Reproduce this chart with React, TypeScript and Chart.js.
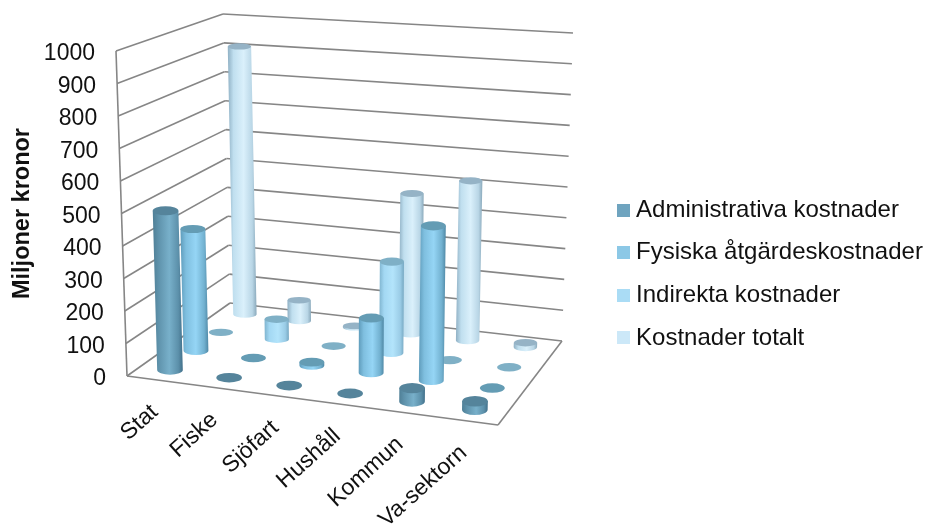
import React, { useEffect, useRef } from "react";
import { Chart, BarController, BarElement, registerables } from "chart.js";

const categories = ["Stat", "Fiske", "Sjöfart", "Hushåll", "Kommun", "Va-sektorn"];
const seriesNames = [
  "Administrativa kostnader",
  "Fysiska åtgärdeskostnader",
  "Indirekta kostnader",
  "Kostnader totalt",
];
const administrativa = [495, 0, 0, 0, 40, 25];
const fysiska = [390, 0, 10, 170, 475, 0];
const indirekta = [0, 65, 0, 292, 0, 0];
const totalt = [910, 70, 5, 462, 520, 15];
const seriesValues = [administrativa, fysiska, indirekta, totalt];

const legendColors = ["#6fa4bf", "#8cc8e6", "#aadcf5", "#cce8f8"];
const capColors = ["#55849b", "#649cb4", "#7fb0c6", "#95b3c6"];
const sideStops = [
  ["#4f7f96", "#5f93ac", "#78b0ca", "#5c90aa", "#42708a"],
  ["#5f9cbb", "#7fbfdf", "#95d5f5", "#72b1d0", "#4f88a5"],
  ["#7fb4cf", "#a3d8f3", "#b3e4fb", "#9acce6", "#76a8c2"],
  ["#8fb0c4", "#c0dfef", "#daf0fb", "#b9d6e6", "#8aa9bb"],
];
const stopOffsets = [0, 0.2, 0.55, 0.85, 1];

const FONT = "'Liberation Sans', Arial, sans-serif";
const GRID = "#868686";

// The eight corners of the plot box on screen: floor and ceiling.
const floorBox = { fl: [127, 376], fr: [498, 425], br: [562, 341], bl: [230, 303] };
const ceilBox = { fl: [116, 51], fr: [506, 80], br: [573, 33], bl: [223, 14] };

const mix = (a: number, b: number, t: number) => a + (b - a) * t;

function quad(box: any, u: number, v: number) {
  const fx = mix(box.fl[0], box.fr[0], u);
  const fy = mix(box.fl[1], box.fr[1], u);
  const bx = mix(box.bl[0], box.br[0], u);
  const by = mix(box.bl[1], box.br[1], u);
  return [mix(fx, bx, v), mix(fy, by, v)];
}

// u runs along the categories, v into the depth, h up the value axis (all 0..1).
// The small quadratic terms stand in for foreshortening towards the far sides.
function project(uIn: number, vIn: number, h: number) {
  const u = uIn - 0.045 * uIn * (1 - uIn);
  const v = vIn + 0.08 * vIn * (1 - vIn);
  const a = quad(floorBox, u, v);
  const b = quad(ceilBox, u, v);
  return [mix(a[0], b[0], h), mix(a[1], b[1], h)];
}

class CylinderElement extends BarElement {
  static id = "cylinder";

  draw(ctx: CanvasRenderingContext2D) {
    const g = (this as any).geo;
    if (!g) return;
    const { bx, by, tx, ty, rx, ry, series, h } = g;
    if (h > 0.0005) {
      const left = Math.min(bx, tx) - rx;
      const right = Math.max(bx, tx) + rx;
      const grad = ctx.createLinearGradient(left, 0, right, 0);
      sideStops[series].forEach((c, i) => grad.addColorStop(stopOffsets[i], c));
      ctx.beginPath();
      ctx.moveTo(tx - rx, ty);
      ctx.lineTo(bx - rx, by);
      ctx.ellipse(bx, by, rx, ry, 0, Math.PI, 0, true);
      ctx.lineTo(tx + rx, ty);
      ctx.closePath();
      ctx.fillStyle = grad;
      ctx.fill();
    }
    ctx.beginPath();
    ctx.ellipse(tx, ty, rx, ry, 0, 0, Math.PI * 2);
    ctx.fillStyle = capColors[series];
    ctx.fill();
  }
}

class CylinderController extends BarController {
  static id = "cylinder";
  static defaults = { dataElementType: "cylinder" };

  updateElements(bars: any[], start: number, count: number, mode: any) {
    const meta = (this as any)._cachedMeta;
    const { iScale, vScale } = meta;
    const series = this.index;
    const v = (series + 0.5) / seriesValues.length;
    const zero = vScale.getPixelForValue(vScale.min);
    const span = zero - vScale.getPixelForValue(vScale.max);
    for (let i = start; i < start + count; i++) {
      const parsed = (this as any).getParsed(i);
      const xPx = iScale.getPixelForValue(parsed[iScale.axis]);
      const u = (xPx - iScale.left) / iScale.width;
      const h = (zero - vScale.getPixelForValue(parsed[vScale.axis])) / span;
      const [bx, by] = project(u, v, 0);
      const [tx, ty] = project(u, v, h);
      (this as any).updateElement(
        bars[i],
        i,
        {
          x: tx,
          y: ty,
          base: by,
          width: 25,
          height: by - ty,
          horizontal: false,
          geo: { bx, by, tx, ty, h, series, rx: mix(13, 11.5, v), ry: mix(4.8, 2.8, v) + u * 0.8 },
          options: (this as any).resolveDataElementOptions(i, mode),
        },
        "none"
      );
    }
  }
}

Chart.register(...registerables, CylinderElement, CylinderController);

function swatch(color: string) {
  const c = document.createElement("canvas");
  c.width = 13;
  c.height = 13;
  const x = c.getContext("2d")!;
  x.fillStyle = color;
  x.fillRect(0, 0, 13, 13);
  return c;
}

// Walls, floor, value labels and category labels of the 3-D box.
const boxFrame = {
  id: "boxFrame",
  afterLayout(chart: any) {
    const lg = chart.legend;
    lg.left = 605;
    lg.right = 925;
    lg.top = 179.5;
    lg.bottom = 526;
  },
  beforeDatasetsDraw(chart: any) {
    const { ctx, scales } = chart;
    const y = scales.y;
    const x = scales.x;
    const zero = y.getPixelForValue(y.min);
    const span = zero - y.getPixelForValue(y.max);
    const seg = (a: number[], b: number[]) => {
      ctx.beginPath();
      ctx.moveTo(a[0], a[1]);
      ctx.lineTo(b[0], b[1]);
      ctx.stroke();
    };
    ctx.save();
    ctx.strokeStyle = GRID;
    ctx.lineWidth = 1.6;
    y.ticks.forEach((t: any) => {
      const h = (zero - y.getPixelForValue(t.value)) / span;
      seg(project(0, 0, h), project(0, 1, h));
      seg(project(0, 1, h), project(1, 1, h));
    });
    seg(project(0, 0, 0), project(0, 0, 1));
    seg(project(0, 0, 0), project(1, 0, 0));
    seg(project(1, 0, 0), project(1, 1, 0));

    ctx.fillStyle = "#111";
    ctx.font = `23px ${FONT}`;
    ctx.textAlign = "right";
    ctx.textBaseline = "middle";
    y.ticks.forEach((t: any) => {
      const h = (zero - y.getPixelForValue(t.value)) / span;
      const p = project(0, 0, h);
      ctx.fillText(String(t.value), p[0] - 21, p[1] + 3);
    });

    ctx.font = `23px ${FONT}`;
    categories.forEach((_, i) => {
      const u = (x.getPixelForValue(i) - x.left) / x.width;
      const p = project(u, 0, 0);
      ctx.save();
      ctx.translate(p[0] - 2, p[1] + 29);
      ctx.rotate((-42 * Math.PI) / 180);
      ctx.fillText(x.getLabelForValue(i), 0, 0);
      ctx.restore();
    });
    ctx.restore();
  },
};

export default function App() {
  const ref = useRef<HTMLCanvasElement>(null);
  useEffect(() => {
    document.body.style.margin = "0";
    document.body.style.overflow = "hidden";
    const chart = new Chart(ref.current!, {
      type: "cylinder" as any,
      data: {
        labels: categories,
        datasets: seriesNames.map((name, s) => ({
          label: name,
          data: seriesValues[s],
          backgroundColor: legendColors[s],
          clip: false,
        })) as any,
      },
      options: {
        responsive: false,
        animation: false,
        layout: { padding: { top: 51, bottom: 150, left: 0, right: 0 } },
        scales: {
          x: { type: "category", display: false, offset: true },
          y: { type: "linear", display: false, min: 0, max: 1000, ticks: { stepSize: 100 } },
        },
        plugins: {
          tooltip: { enabled: false },
          title: {
            display: true,
            position: "left",
            text: "Miljoner kronor",
            color: "#111",
            font: { family: FONT, size: 23.5, weight: "bold" },
            padding: { top: 8, bottom: 6 },
          },
          legend: {
            position: "right",
            align: "start",
            labels: {
              usePointStyle: true,
              pointStyleWidth: 0.5,
              padding: 18.6,
              color: "#111",
              font: { family: FONT, size: 24 },
              generateLabels: () =>
                seriesNames.map((text, s) => ({
                  text,
                  datasetIndex: s,
                  pointStyle: swatch(legendColors[s]),
                  fontColor: "#111",
                  lineWidth: 0,
                })) as any,
            },
          },
        },
      } as any,
      plugins: [boxFrame],
    });
    return () => chart.destroy();
  }, []);
  return <canvas ref={ref} width={925} height={526} style={{ display: "block" }} />;
}
